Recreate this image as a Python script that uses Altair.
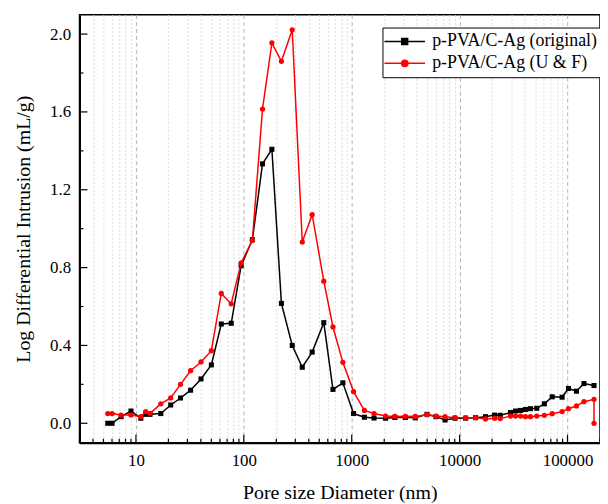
import altair as alt
import pandas as pd

# ---- data ----
pore_nm = [5.48, 6.01, 7.28, 9.0, 11.1, 12.3, 13.5, 17.0, 21.0, 25.9, 32.1, 40.1, 50.0,
           61.8, 76.4, 94.4, 120, 149, 182, 223, 281, 348, 430, 551, 670, 828,
           1040, 1310, 1610, 2060, 2510, 3140, 3880, 4980, 6030, 7330, 9060, 11370,
           14060, 17380, 21100, 23800, 29600, 33000, 36700, 40700, 45300, 51900,
           61000, 72100, 89100, 102000, 121000, 142000, 176000]

y_original = [0.0, 0.0, 0.034, 0.063, 0.026, 0.046, 0.046, 0.05, 0.094, 0.13, 0.17, 0.228, 0.30,
              0.51, 0.514, 0.81, 0.943, 1.333, 1.408, 0.616, 0.40, 0.288, 0.366, 0.517, 0.174, 0.208,
              0.05, 0.031, 0.027, 0.026, 0.03, 0.03, 0.028, 0.046, 0.034, 0.017, 0.026, 0.026,
              0.029, 0.034, 0.042, 0.041, 0.055, 0.063, 0.066, 0.071, 0.075, 0.077,
              0.10, 0.136, 0.134, 0.179, 0.165, 0.204, 0.194]

pore_nm_uf = pore_nm + [176000]
y_uf = [0.05, 0.05, 0.042, 0.043, 0.034, 0.06, 0.051, 0.10, 0.13, 0.20, 0.27, 0.315, 0.373,
        0.667, 0.614, 0.824, 0.94, 1.615, 1.955, 1.86, 2.022, 0.931, 1.072, 0.73, 0.495, 0.313,
        0.163, 0.066, 0.05, 0.037, 0.035, 0.036, 0.035, 0.044, 0.037, 0.034, 0.029, 0.029,
        0.029, 0.022, 0.026, 0.024, 0.037, 0.037, 0.037, 0.034, 0.034, 0.037,
        0.041, 0.049, 0.06, 0.075, 0.089, 0.111, 0.123, 0.0]

series_names = ["p-PVA/C-Ag (original)", "p-PVA/C-Ag (U & F)"]
series_colors = ["#000000", "#ff0000"]

x_major = [10, 100, 1000, 10000, 100000]
x_ticks = [m * 10 ** e for e in range(0, 6) for m in range(1, 10) if 3 <= m * 10 ** e <= 200000]
x_minor = [v for v in x_ticks if v not in x_major]
y_major = [0.0, 0.4, 0.8, 1.2, 1.6, 2.0]
y_minor = [0.2, 0.6, 1.0, 1.4, 1.8]

# ---- tables ----
df_o = pd.DataFrame({"x": pore_nm, "y": y_original, "series": series_names[0]})
df_o["i"] = range(len(df_o))
df_u = pd.DataFrame({"x": pore_nm_uf, "y": y_uf, "series": series_names[1]})
df_u["i"] = range(len(df_u))
df_all = pd.concat([df_o, df_u], ignore_index=True)

W, H = 524, 431
FONT = "Liberation Serif"
xscale = alt.Scale(type="log", domain=[3, 200000], nice=False)
yscale = alt.Scale(domain=[-0.1, 2.1], nice=False, zero=False)

major_test = "indexof([10,100,1000,10000,100000], datum.value) >= 0"
x_axis = alt.Axis(
    values=x_ticks,
    labelExpr="indexof([10,100,1000,10000,100000], datum.value) >= 0 ? format(datum.value, 'd') : ''",
    labelOverlap=False, labelFlush=False, labelBound=False,
    ticks=False, grid=True,
    gridColor={"condition": {"test": major_test, "value": "#b4b4b4"}, "value": "#dcdcdc"},
    gridDash={"condition": {"test": major_test, "value": [4, 3]}, "value": [2, 2]},
    gridWidth=1,
    domainColor="black", domainWidth=2,
    labelFont=FONT, labelFontSize=17, labelColor="black", labelPadding=10,
    title="Pore size Diameter (nm)", titleFont=FONT, titleFontSize=20,
    titleFontWeight="normal", titleColor="black", titlePadding=14,
)
y_axis = alt.Axis(
    values=y_major, format=".1f", ticks=False, grid=False,
    domainColor="black", domainWidth=2,
    labelFont=FONT, labelFontSize=17, labelColor="black", labelPadding=9,
    title="Log Differential Intrusion (mL/g)", titleFont=FONT, titleFontSize=20,
    titleFontWeight="normal", titleColor="black", titlePadding=16,
)

X = lambda: alt.X("x:Q", scale=xscale, axis=x_axis)
Y = lambda: alt.Y("y:Q", scale=yscale, axis=y_axis)

base_o = alt.Chart(df_o)
base_u = alt.Chart(df_u)

line_o = base_o.mark_line(color=series_colors[0], strokeWidth=1.5).encode(
    x=X(), y=Y(), order="i:Q")
pts_o = base_o.mark_square(color=series_colors[0], size=26, opacity=1).encode(x=X(), y=Y())
line_u = base_u.mark_line(color=series_colors[1], strokeWidth=1.5).encode(
    x=X(), y=Y(), order="i:Q")
pts_u = base_u.mark_circle(color=series_colors[1], size=28, opacity=1).encode(x=X(), y=Y())

# inward ticks
xt_major = alt.Chart(pd.DataFrame({"x": x_major})).mark_rule(color="black", strokeWidth=1.2).encode(
    x=X(), y=alt.value(H), y2=alt.value(H - 8))
xt_minor = alt.Chart(pd.DataFrame({"x": x_minor})).mark_rule(color="black", strokeWidth=1.2).encode(
    x=X(), y=alt.value(H), y2=alt.value(H - 4))
yt_major = alt.Chart(pd.DataFrame({"y": y_major})).mark_rule(color="black", strokeWidth=1.2).encode(
    y=Y(), x=alt.value(0), x2=alt.value(8))
yt_minor = alt.Chart(pd.DataFrame({"y": y_minor})).mark_rule(color="black", strokeWidth=1.2).encode(
    y=Y(), x=alt.value(0), x2=alt.value(4))

# legend layer (no marks drawn, just the legend)
sq_path = "M-1.5,0H3.6M0.68,-0.38H1.42V0.38H0.68Z"
ci_path = "M-1.5,0H3.6M0.65,0A0.4,0.4,0,1,0,1.45,0A0.4,0.4,0,1,0,0.65,0Z"
leg = alt.Legend(
    title=None, orient="none", legendX=305, legendY=13,
    strokeColor="black", fillColor="white", padding=5, cornerRadius=0,
    labelFont=FONT, labelFontSize=18, labelColor="black", labelOffset=27,
    symbolSize=256, symbolStrokeWidth=1.5, rowPadding=4, labelLimit=400,
)
legend_layer = alt.Chart(df_all).transform_filter("false").mark_point(filled=True, opacity=1).encode(
    x=X(), y=Y(),
    fill=alt.Fill("series:N", scale=alt.Scale(domain=series_names, range=series_colors), legend=leg),
    stroke=alt.Stroke("series:N", scale=alt.Scale(domain=series_names, range=series_colors), legend=leg),
    shape=alt.Shape("series:N", scale=alt.Scale(domain=series_names, range=[sq_path, ci_path]), legend=leg),
)

chart = alt.layer(
    line_o, pts_o, line_u, pts_u, xt_major, xt_minor, yt_major, yt_minor, legend_layer
).properties(
    width=W, height=H,
    autosize=alt.AutoSizeParams(type="none"),
    padding={"left": 72, "top": 5, "right": 0, "bottom": 60},
    background="white",
).configure_view(stroke="black", strokeWidth=1.5)

chart.save("out.html", embed_options={"renderer": "svg", "actions": False})
